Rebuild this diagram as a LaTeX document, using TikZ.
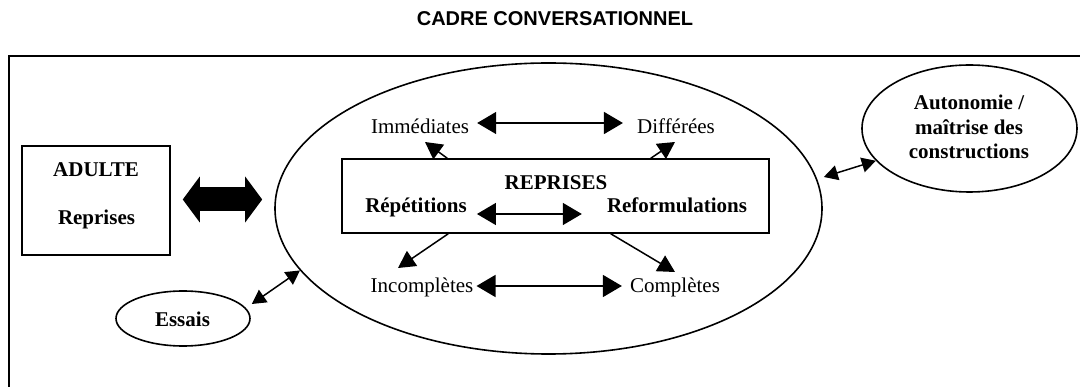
\documentclass[tikz,border=0pt]{standalone}
\usepackage{fontspec}
\setmainfont{Liberation Serif}
\newfontfamily\titlefont{Liberation Sans}
\usetikzlibrary{shapes.geometric,arrows.meta}
\tikzset{
  txt/.style={inner sep=0pt, anchor=base, font=\fontsize{21}{25}\selectfont},
  btxt/.style={txt, font=\fontsize{21}{25}\selectfont\bfseries},
  boxshape/.style={draw, line width=1.5pt, inner sep=0pt},
  ovalshape/.style={ellipse, draw, line width=1.6pt, inner sep=0pt},
  harr/.style={line width=1.5pt, {Triangle[length=19pt,width=22pt]}-{Triangle[length=19pt,width=22pt]}},
  darr/.style={line width=1.5pt, -{Triangle[length=17pt,width=18pt]}},
  sarr/.style={line width=1.5pt, {Triangle[length=14pt,width=15pt]}-{Triangle[length=14pt,width=15pt]}},
  bigarr/.style={line width=24pt, {Triangle[length=17pt,width=45pt]}-{Triangle[length=17pt,width=45pt]}}
}
\begin{document}
\begin{tikzpicture}[x=1pt,y=-1pt]
\useasboundingbox (0,0) rectangle (1080,387);
% title
\node[inner sep=0pt, anchor=base, font=\titlefont\fontsize{20}{24}\selectfont\bfseries] (title) at (555,26) {CADRE CONVERSATIONNEL};
% outer frame
\coordinate (fbl) at (9,390);
\coordinate (ftl) at (9,56);
\coordinate (ftr) at (1083,56);
\draw[line width=1.6pt] (fbl) -- (ftl) -- (ftr);
% adulte box
\node[boxshape, minimum width=148pt, minimum height=109pt] (adultebox) at (96,200.5) {};
\node[btxt] (adulte) at (96,177) {ADULTE};
\node[btxt] (repad) at (96.5,225) {Reprises};
% big ellipse
\node[ovalshape, minimum width=547pt, minimum height=291pt] (cadre) at (548.5,208.5) {};
% inner box
\node[boxshape, minimum width=427pt, minimum height=74pt] (reprbox) at (555.5,196) {};
\node[btxt] (repr) at (556,190) {REPRISES};
\node[btxt] (repet) at (416,213) {Répétitions};
\node[btxt] (reform) at (677,213) {Reformulations};
\node[txt] (imm) at (420,134) {Immédiates};
\node[txt] (dif) at (676,134) {Différées};
\node[txt] (incomp) at (422,293) {Incomplètes};
\node[txt] (comp) at (675,293) {Complètes};
% small ovals
\node[ovalshape, minimum width=134pt, minimum height=55pt] (essaisov) at (183,318.5) {};
\node[btxt] (essais) at (182.5,327) {Essais};
\node[ovalshape, minimum width=215pt, minimum height=127pt] (autoov) at (969.5,128.5) {};
\node[btxt] (auto1) at (969,110) {Autonomie /};
\node[btxt] (auto2) at (969,135) {maîtrise des};
\node[btxt] (auto3) at (969,159) {constructions};
% big double arrow
\draw[bigarr] ([shift={(12,-1)}]adultebox.east) -- ([shift={(-12,-9)}]cadre.west);
% horizontal arrows
\draw[harr] ([shift={(8,-11)}]imm.base east) -- ([shift={(-14,-11)}]dif.base west);
\draw[harr] ([shift={(10,1)}]repet.base east) -- ([shift={(-25,1)}]reform.base west);
\draw[harr] ([shift={(3,-7)}]incomp.base east) -- ([shift={(-8,-7)}]comp.base west);
% diagonal arrows
\draw[darr] ([xshift=106pt]reprbox.north west) -- ([shift={(5,8)}]imm.base);
\draw[darr] ([xshift=-119pt]reprbox.north east) -- ([shift={(-1,8)}]dif.base);
\draw[darr] ([xshift=107pt]reprbox.south west) -- ([shift={(-24,-25)}]incomp.base);
\draw[darr] ([xshift=-159pt]reprbox.south east) -- ([shift={(0,-21)}]comp.base);
% essais / autonomie arrows
\draw[sarr] ([shift={(1,-14.5)}]essaisov.east) -- (cadre.194);
\draw[sarr] ([shift={(1,-31.5)}]cadre.east) -- (autoov.199);
\end{tikzpicture}
\end{document}
